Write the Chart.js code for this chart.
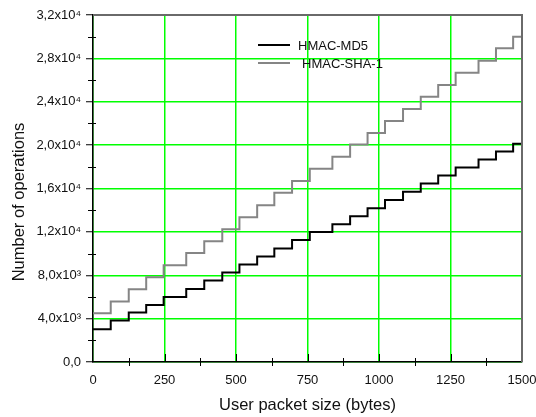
<!DOCTYPE html>
<html>
<head>
<meta charset="utf-8">
<script src="https://cdn.jsdelivr.net/npm/chart.js@4/dist/chart.umd.min.js"></script>
<style>
  html, body { margin: 0; padding: 0; background: #fff; }
  #graph { display: block; }
</style>
</head>
<body>
<canvas id="graph" width="536" height="417"></canvas>
<script>
// step start positions (bytes)
const packetSize = [0, 62, 125, 186, 247, 326, 389, 452, 512, 574, 634, 696, 758, 837, 899, 960, 1021, 1084, 1146, 1207, 1268, 1348, 1409, 1469, 1500];
const md5Ops = [3020, 3820, 4560, 5260, 6000, 6740, 7510, 8250, 8990, 9730, 10470, 11250, 12000, 12710, 13450, 14190, 14930, 15690, 16470, 17200, 17940, 18680, 19420, 20120, 20120];
const sha1Ops = [4500, 5580, 6710, 7820, 8930, 10060, 11140, 12250, 13360, 14460, 15600, 16690, 17810, 18920, 20050, 21110, 22220, 23330, 24460, 25540, 26680, 27780, 28930, 30000, 30000];

const seriesNames = ['HMAC-MD5', 'HMAC-SHA-1'];
const xTickLabels = ['0', '250', '500', '750', '1000', '1250', '1500'];
const yTickLabels = ['0,0', '4,0x10\u00b3', '8,0x10\u00b3', '1,2x10\u2074', '1,6x10\u2074', '2,0x10\u2074', '2,4x10\u2074', '2,8x10\u2074', '3,2x10\u2074'];
const xTitle = 'User packet size (bytes)';
const yTitle = 'Number of operations';

const FONT = '"Liberation Sans", Arial, sans-serif';

function toPoints(xs, ys) {
    return xs.map((x, i) => ({ x: x, y: ys[i] }));
}

// minor ticks, inner x ticks, frame, titles and legend
const decorations = {
    id: 'decorations',
    afterDraw(chart) {
        const ctx = chart.ctx;
        const xs = chart.scales.x;
        const ys = chart.scales.y;
        const area = chart.chartArea;
        ctx.save();

        // top and right frame
        ctx.strokeStyle = '#6a6a6a';
        ctx.lineWidth = 2;
        ctx.beginPath();
        ctx.moveTo(area.left, area.top);
        ctx.lineTo(area.right, area.top);
        ctx.lineTo(area.right, area.bottom);
        ctx.stroke();

        ctx.strokeStyle = '#000';
        ctx.lineWidth = 1;
        ctx.beginPath();
        for (let v = 250; v < 1500; v += 250) {
            const px = Math.round(xs.getPixelForValue(v)) + 0.5;
            ctx.moveTo(px, area.bottom - 8);
            ctx.lineTo(px, area.bottom);
        }
        for (let v = 125; v < 1500; v += 250) {
            const px = Math.round(xs.getPixelForValue(v)) + 0.5;
            ctx.moveTo(px, area.bottom - 4);
            ctx.lineTo(px, area.bottom + 4);
        }
        for (let v = 2000; v < 32000; v += 4000) {
            const py = Math.round(ys.getPixelForValue(v)) + 0.5;
            ctx.moveTo(area.left - 5, py);
            ctx.lineTo(area.left + 3, py);
        }
        ctx.stroke();

        // axis titles
        ctx.fillStyle = '#111';
        ctx.font = '16.5px ' + FONT;
        ctx.textAlign = 'center';
        ctx.textBaseline = 'alphabetic';
        ctx.fillText(xTitle, (area.left + area.right) / 2, 410);
        ctx.save();
        ctx.translate(24, 202);
        ctx.rotate(-Math.PI / 2);
        ctx.fillText(yTitle, 0, 0);
        ctx.restore();

        // legend
        ctx.font = '13px ' + FONT;
        ctx.textAlign = 'left';
        const rows = [
            { y: 45, tx: 298, color: '#000' },
            { y: 63, tx: 302, color: '#858585' }
        ];
        rows.forEach((r, i) => {
            ctx.strokeStyle = r.color;
            ctx.lineWidth = 2;
            ctx.beginPath();
            ctx.moveTo(258, r.y);
            ctx.lineTo(290, r.y);
            ctx.stroke();
            ctx.fillText(seriesNames[i], r.tx, r.y + 4.7);
        });

        ctx.restore();
    }
};

const ctx = document.getElementById('graph').getContext('2d');
const graph = new Chart(ctx, {
    type: 'line',
    data: {
        datasets: [{
            label: seriesNames[0],
            data: toPoints(packetSize, md5Ops),
            borderColor: '#000',
            borderWidth: 2,
            pointRadius: 0,
            stepped: true,
            fill: false
        }, {
            label: seriesNames[1],
            data: toPoints(packetSize, sha1Ops),
            borderColor: '#858585',
            borderWidth: 2,
            pointRadius: 0,
            stepped: true,
            fill: false
        }]
    },
    options: {
        responsive: false,
        devicePixelRatio: 1,
        animation: false,
        layout: { padding: { top: 15, right: 14, bottom: 0, left: 0 } },
        plugins: {
            legend: { display: false },
            tooltip: { enabled: false }
        },
        scales: {
            x: {
                type: 'linear',
                min: 0,
                max: 1500,
                ticks: {
                    stepSize: 250,
                    color: '#111',
                    font: { family: FONT, size: 13 },
                    padding: 11,
                    maxRotation: 0,
                    callback: (value, index) => xTickLabels[index]
                },
                grid: { color: '#00ff00', lineWidth: 1.5, drawTicks: false },
                border: { color: '#000', width: 1.5 },
                afterFit(scale) {
                    scale.height = 55;
                    scale.paddingLeft = 0;
                    scale.paddingRight = 0;
                }
            },
            y: {
                min: 0,
                max: 32000,
                ticks: {
                    stepSize: 4000,
                    color: '#111',
                    font: { family: FONT, size: 13 },
                    padding: 5,
                    callback: (value, index) => yTickLabels[index]
                },
                grid: { color: '#00ff00', lineWidth: 1.5, tickLength: 7, tickColor: '#000', tickWidth: 1 },
                border: { color: '#000', width: 1.5 },
                afterFit(scale) {
                    scale.width = 93;
                    scale.paddingTop = 0;
                    scale.paddingBottom = 0;
                }
            }
        }
    },
    plugins: [decorations]
});
</script>
</body>
</html>
